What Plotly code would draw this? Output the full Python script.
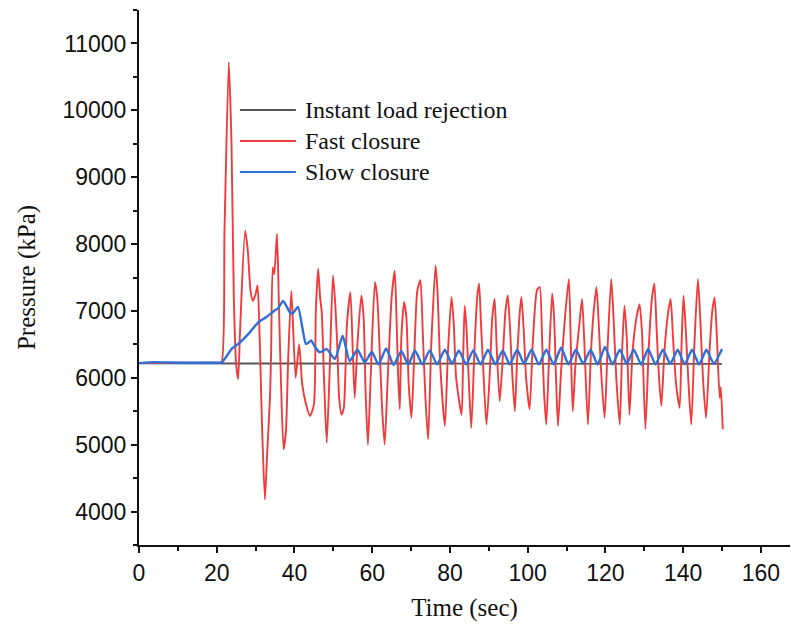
import plotly.graph_objects as go

# ---------------- data ----------------
instant_t = [0, 20, 150]
instant_p = [6215, 6215, 6210]

fast_t = [0, 10, 18, 20.2, 21.2, 22.0, 23.1, 23.8, 24.4, 25.0, 25.5, 26.0, 27.3, 28.0, 28.7, 29.3, 30.0, 30.5,
          31.0, 31.7, 32.4, 33.0, 33.7, 34.0, 34.4, 34.8, 35.5, 36.0, 36.5, 37.2, 37.8, 38.4, 39.2,
          40.3, 41.2, 42.0, 43.0, 44.0, 45.0, 45.5, 46.1, 46.6, 47.0, 47.6, 48.3, 49.0, 49.9, 50.5,
          51.0, 51.5, 52.1, 52.7, 53.5, 54.4, 55.0, 55.5, 56.2, 57.2, 57.8, 58.3, 58.9, 59.6, 60.7,
          61.3, 61.8, 62.5, 63.2, 64.0, 65.0, 65.8, 66.3, 66.7, 67.1, 67.5, 68.2, 68.8, 69.4, 70.1,
          70.8, 71.6, 72.4, 73.0, 73.7, 74.4, 75.2, 76.3, 76.8, 77.5, 78.7, 79.5, 80.4, 81.0, 81.6,
          83.0, 83.4, 83.8, 84.3, 84.9, 85.5, 86.3, 87.0, 87.5, 88.0, 88.6, 89.4, 90.2, 90.9, 91.5,
          92.0, 92.8, 93.5, 94.3, 94.9, 95.5, 96.0, 96.7, 97.3, 98.0, 98.4, 99.0, 99.6, 100.5, 101.3,
          102.4, 103.1, 103.7, 104.2, 104.8, 105.5, 106.3, 106.8, 107.3, 107.8, 108.6, 109.6, 110.6,
          111.1, 111.6, 112.3, 113.3, 114.0, 114.6, 115.5, 116.3, 117.0, 117.7, 118.3, 119.0, 119.8,
          120.6, 121.5, 122.1, 122.8, 123.7, 124.3, 124.9, 125.5, 126.2, 127.0, 128.0, 128.8, 129.4,
          130.3, 131.2, 132.0, 132.6, 133.2, 133.8, 134.4, 135.2, 136.2, 136.8, 137.4, 138.2, 139.1,
          139.6, 140.1, 140.7, 141.4, 142.1, 142.9, 143.8, 144.4, 145.1, 145.9, 146.8, 147.5, 148.1,
          148.7, 149.4, 149.7, 150.2]
fast_p = [6220, 6225, 6225, 6225, 6230, 8200, 10720, 9500, 7200, 6200, 5980, 6700, 8200, 7900, 7300, 7150, 7250, 7380,
          6700, 5200, 4180, 4900, 5700, 6400, 7650, 7550, 8150, 7100, 6000, 4930, 5200, 6300, 7300,
          6000, 6500, 5900, 5600, 5430, 5600, 7000, 7630, 7200, 7000, 6000, 5030, 6000, 7530, 7100,
          6500, 5700, 5450, 5550, 6800, 7280, 6400, 5700, 6500, 7230, 6900, 5800, 5000, 6000, 7430,
          7200, 6600, 5600, 5000, 6000, 7200, 7600, 6800, 6000, 5530, 6600, 7130, 6900, 5900, 5400,
          6300, 7300, 7460, 6700, 5700, 5080, 6500, 7680, 7300, 6200, 5280, 6400, 7210, 6800, 6000,
          5450, 6300, 7080, 6700, 5900, 5250, 6400, 7200, 7410, 6800, 6100, 5300, 6000, 6900, 7180,
          6500, 5650, 6200, 7000, 7230, 6700, 6100, 5500, 6300, 7000, 7210, 6700, 6000, 5530, 6500,
          7310, 7360, 6600, 5800, 5300, 6300, 7260, 6900, 6000, 5280, 6100, 6900, 7480,
          6500, 5500, 6200, 6800, 7180, 6500, 5300, 6400, 7000, 7360, 6800, 6000, 5400,
          6500, 7480, 6900, 6000, 5300, 6400, 7080, 6600, 5450, 6400, 6900, 7100, 6700,
          5230, 6500, 7200, 7410, 6700, 6000, 5580, 6400, 7000, 7180, 6600, 5900, 5550,
          6500, 7230, 6700, 5900, 5300, 6500, 7480, 6900, 6000, 5400, 6400, 7000, 7200,
          6600, 5700, 5860, 5230]

slow_t = [0, 4, 8, 14, 18, 20.2, 21.3, 23.8, 26.0, 28.5, 30.7, 32.8, 35.0, 35.8, 37.1, 38.8, 39.5, 40.9, 42.9, 43.5,
          44.3, 45.2, 46.5, 48.3, 50.4, 52.4, 54.2, 56.2, 58.1, 59.9, 61.6, 63.6, 65.5, 67.5, 69.3,
          71.0, 72.9, 74.8, 76.7, 78.7, 80.5, 82.3, 84.2, 86.0, 87.9, 89.8, 91.7, 93.6, 95.4, 97.3,
          99.1, 101.0, 102.9, 104.8, 106.7, 108.6, 110.5, 112.4, 114.3, 116.2, 118.0, 119.9, 121.8,
          123.7, 125.5, 127.3, 129.2, 131.0, 132.9, 134.8, 136.7, 138.6, 140.4, 142.3, 144.1, 146.0,
          147.9, 150.0]
slow_p = [6220, 6235, 6228, 6225, 6225, 6225, 6228, 6430, 6530, 6680, 6830, 6910, 7010, 7040, 7150, 6980, 6960, 7060, 6510, 6520,
          6560, 6470, 6380, 6430, 6280, 6630, 6250, 6420, 6230, 6390, 6200, 6440, 6190, 6400, 6200,
          6410, 6200, 6410, 6200, 6420, 6210, 6410, 6200, 6410, 6200, 6420, 6200, 6410, 6200, 6420,
          6210, 6420, 6200, 6420, 6200, 6450, 6200, 6420, 6210, 6420, 6200, 6460, 6200,
          6420, 6210, 6420, 6200, 6430, 6200, 6420, 6210, 6420, 6200, 6420, 6200, 6420,
          6210, 6430]

series_names = ["Instant load rejection", "Fast closure", "Slow closure"]
series_colors = ["#555555", "#ef3b3b", "#2f6fd8"]

x_ticks = [0, 20, 40, 60, 80, 100, 120, 140, 160]
y_ticks = [4000, 5000, 6000, 7000, 8000, 9000, 10000, 11000]

# ---------------- figure ----------------
fig = go.Figure()
fig.add_trace(go.Scatter(x=instant_t, y=instant_p, mode="lines", name=series_names[0],
                         line=dict(color=series_colors[0], width=1.8)))
fig.add_trace(go.Scatter(x=fast_t, y=fast_p, mode="lines", name=series_names[1],
                         line=dict(color=series_colors[1], width=1.9, shape="spline", smoothing=0.6)))
fig.add_trace(go.Scatter(x=slow_t, y=slow_p, mode="lines", name=series_names[2],
                         line=dict(color=series_colors[2], width=2.4, shape="spline", smoothing=0.5)))

tick_font = dict(family="Liberation Sans, Arial, sans-serif", size=23, color="#111")
title_font = dict(family="Liberation Serif, Times New Roman, serif", size=25, color="#111")

fig.update_layout(
    width=791, height=625,
    margin=dict(l=139, r=1, t=10, b=80),
    paper_bgcolor="white", plot_bgcolor="white",
    showlegend=False,
    xaxis=dict(range=[0, 167.5], tickvals=x_ticks, ticks="outside", ticklen=6, tickwidth=1.8,
               tickcolor="#111", showline=True, linecolor="#111", linewidth=2, showgrid=False,
               zeroline=False, tickfont=tick_font, automargin=False,
               minor=dict(dtick=10, ticks="outside", ticklen=4, tickwidth=1.5, tickcolor="#111"),
               title=dict(text="Time (sec)", font=title_font, standoff=14)),
    yaxis=dict(range=[3500, 11500], tickvals=y_ticks, tickformat="d", ticks="outside", ticklen=6,
               tickwidth=1.8, tickcolor="#111", showline=True, linecolor="#111", linewidth=2,
               showgrid=False, zeroline=False, tickfont=tick_font, automargin=False,
               minor=dict(dtick=500, ticks="outside", ticklen=4, tickwidth=1.5, tickcolor="#111"),
               title=dict(text="Pressure (kPa)", font=title_font, standoff=20)),
)

# custom legend (line samples + labels)
leg_rows = [0.813, 0.755, 0.697]
for name, color, yy in zip(series_names, series_colors, leg_rows):
    fig.add_shape(type="line", xref="paper", yref="paper", x0=0.155, x1=0.241, y0=yy, y1=yy,
                  line=dict(color=color, width=2))
    fig.add_annotation(xref="paper", yref="paper", x=0.252, y=yy, text=name, showarrow=False,
                       xanchor="left", yanchor="middle",
                       font=dict(family="Liberation Serif, Times New Roman, serif", size=24, color="#111"))

fig.write_html("out.html", config={"displayModeBar": False},
               post_script="document.body.style.margin='0';document.body.style.overflow='hidden';")
